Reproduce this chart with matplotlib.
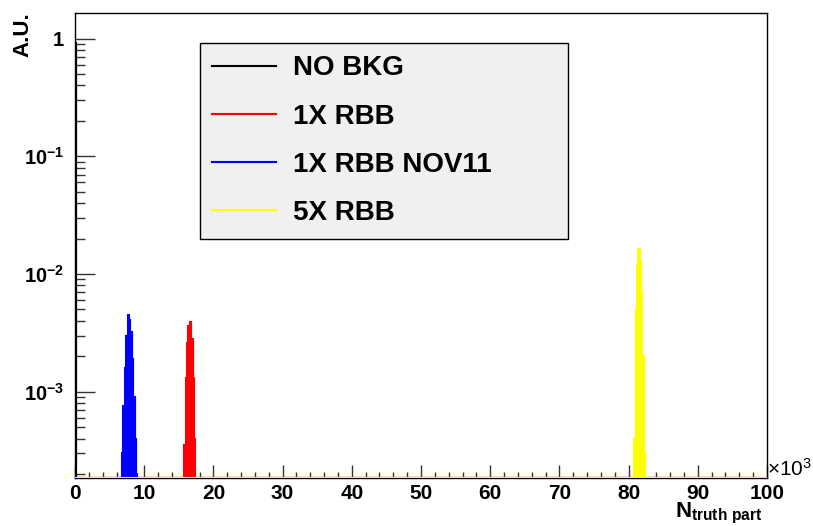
import numpy as np
import matplotlib
matplotlib.use('Agg')
import matplotlib.pyplot as plt
from matplotlib.ticker import FixedLocator, FixedFormatter, MultipleLocator, LogLocator, NullFormatter

plt.rcParams['font.family'] = ['Liberation Sans', 'DejaVu Sans']
plt.rcParams['mathtext.fontset'] = 'custom'
plt.rcParams['mathtext.rm'] = 'Liberation Sans:bold'
plt.rcParams['mathtext.it'] = 'Liberation Sans:bold'
plt.rcParams['mathtext.bf'] = 'Liberation Sans:bold'
plt.rcParams['mathtext.sf'] = 'Liberation Sans'

# ---------------- data (x in units of 10^3, bin width 0.2) ----------------
bin_width = 0.2
x_max = 100.0
y_min, y_max = 1.85e-4, 1.65

series_names = ['NO BKG', '1X RBB', '1X RBB NOV11', '5X RBB']
series_colors = ['black', 'red', 'blue', 'yellow']

nobkg_start = 0.0
nobkg_values = [0.92]

rbb1_start = 15.8
rbb1_values = [3.5e-4, 1.3e-3, 2.6e-3, 3.6e-3, 3.9e-3, 2.8e-3, 1.3e-3, 4.0e-4, 1.5e-4]

nov11_start = 6.8
nov11_values = [3.0e-4, 7.5e-4, 1.6e-3, 3.0e-3, 4.45e-3, 4.1e-3, 3.2e-3, 1.9e-3, 9.0e-4, 4.0e-4, 2.0e-4]

rbb5_start = 80.8
rbb5_values = [4.0e-4, 5.0e-3, 1.2e-2, 1.63e-2, 1.3e-2, 7.0e-3, 2.0e-3, 3.0e-4]

y_major = [1e-3, 1e-2, 1e-1, 1.0]
y_major_labels = [r'$10^{-3}$', r'$10^{-2}$', r'$10^{-1}$', '1']

# ---------------- build histograms ----------------
edges = np.arange(0, x_max + bin_width / 2, bin_width)
nbins = len(edges) - 1

def make_hist(start, values):
    h = np.zeros(nbins)
    i0 = int(round(start / bin_width))
    h[i0:i0 + len(values)] = values
    return h

hists = [make_hist(nobkg_start, nobkg_values),
         make_hist(rbb1_start, rbb1_values),
         make_hist(nov11_start, nov11_values),
         make_hist(rbb5_start, rbb5_values)]

fig = plt.figure(figsize=(8.13, 5.26), dpi=100)
L, R, T, B = 75, 767, 13, 478
W, H = 813, 526
ax = fig.add_axes([L / W, 1 - B / H, (R - L) / W, (B - T) / H])
ax.set_yscale('log')

for h, name, c in zip(hists, series_names, series_colors):
    drawn = np.maximum(h, y_min)
    ax.stairs(drawn, edges, baseline=y_min, fill=True, facecolor=c, edgecolor=c, lw=0.8, zorder=3)
    ax.stairs(drawn, edges, baseline=None, color=c, lw=1.5, label=name, zorder=3)

ax.set_xlim(0, x_max)
ax.set_ylim(y_min, y_max)

ax.xaxis.set_major_locator(MultipleLocator(10))
ax.xaxis.set_minor_locator(MultipleLocator(2))
ax.xaxis.set_major_formatter(matplotlib.ticker.FormatStrFormatter('%d'))
ax.yaxis.set_major_locator(FixedLocator(y_major))
ax.yaxis.set_major_formatter(FixedFormatter(y_major_labels))
ax.yaxis.set_minor_locator(LogLocator(base=10, subs=np.arange(2, 10), numticks=20))
ax.yaxis.set_minor_formatter(NullFormatter())

ax.tick_params(axis='both', which='both', direction='in', top=False, right=False, colors='#333333',
               labelcolor='black')
ax.tick_params(axis='x', which='major', length=9.5, width=1, pad=4, labelsize=15)
ax.tick_params(axis='x', which='minor', length=4.3, width=1)
ax.tick_params(axis='y', which='major', length=14.4, width=1, pad=8, labelsize=14.5)
ax.tick_params(axis='y', which='minor', length=7.2, width=1)
for lab in ax.get_xticklabels() + ax.get_yticklabels():
    lab.set_fontweight('bold')

for s in ax.spines.values():
    s.set_linewidth(1)
    s.set_color('black')

leg = ax.legend(loc='upper left', bbox_to_anchor=(0.1806, 0.4, 0.5318, 0.5355), mode='expand',
                borderaxespad=0, prop={'size': 20, 'weight': 'bold'}, frameon=True, fancybox=False,
                edgecolor='black', facecolor='#f0f0f0', framealpha=1, handlelength=2.3,
                handletextpad=0.6, labelspacing=0.8, borderpad=0.45)
leg.get_frame().set_linewidth(1)

fig.text(23 / W, 1 - 12 / H, 'A.U.', rotation=90, ha='center', va='top', fontsize=16, fontweight='bold')
fig.text(762 / W, 1 - 501 / H, r'$N_{truth\ part}$', ha='right', va='top', fontsize=16)
fig.text(767 / W, 1 - 480 / H, r'$\mathsf{\times 10^{3}}$', ha='left', va='bottom', fontsize=15)

fig.savefig('out.png', dpi=100)
